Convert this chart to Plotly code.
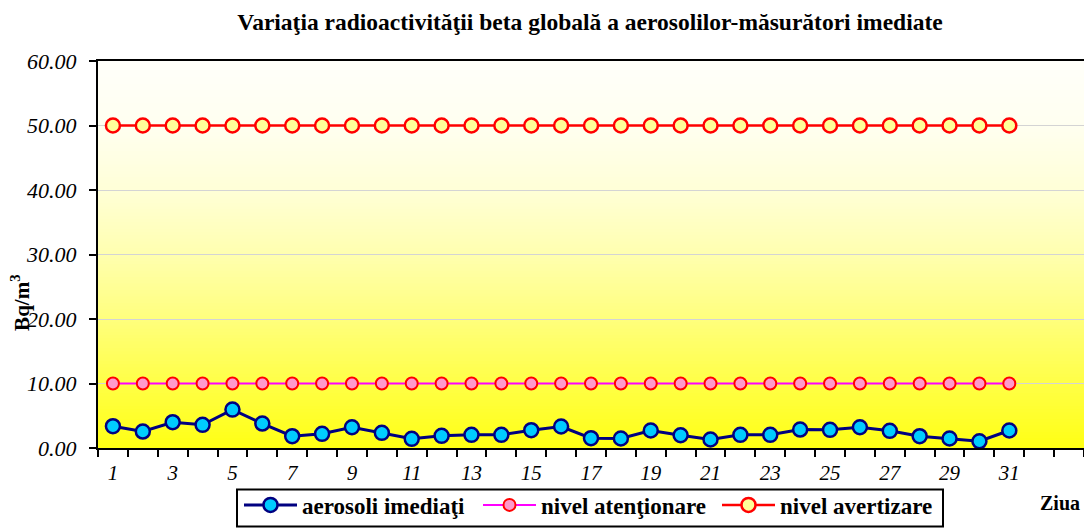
import plotly.graph_objects as go
import numpy as np

days = list(range(1, 32))
aerosoli = [3.38, 2.55, 4.00, 3.59, 5.96, 3.79, 1.83, 2.20, 3.22, 2.35,
            1.42, 1.89, 2.04, 2.04, 2.76, 3.33, 1.52, 1.47, 2.71, 1.98,
            1.32, 2.04, 2.04, 2.86, 2.82, 3.22, 2.66, 1.83, 1.47, 1.05, 2.71]
atentionare = [10.0, 10.0, 10.0, 10.0, 10.0, 10.0, 10.0, 10.0, 10.0, 10.0,
               10.0, 10.0, 10.0, 10.0, 10.0, 10.0, 10.0, 10.0, 10.0, 10.0,
               10.0, 10.0, 10.0, 10.0, 10.0, 10.0, 10.0, 10.0, 10.0, 10.0, 10.0]
avertizare = [50.0, 50.0, 50.0, 50.0, 50.0, 50.0, 50.0, 50.0, 50.0, 50.0,
              50.0, 50.0, 50.0, 50.0, 50.0, 50.0, 50.0, 50.0, 50.0, 50.0,
              50.0, 50.0, 50.0, 50.0, 50.0, 50.0, 50.0, 50.0, 50.0, 50.0, 50.0]
x_ticks = [1, 3, 5, 7, 9, 11, 13, 15, 17, 19, 21, 23, 25, 27, 29, 31]
y_ticks = [0, 10, 20, 30, 40, 50, 60]

SERIF = "Liberation Serif"
PAGE_OFFSET = 8  # default body margin of the page holding the figure

fig = go.Figure()
fig.add_trace(go.Scatter(
    x=days, y=aerosoli, name="aerosoli imediaţi", mode="lines+markers",
    line=dict(color="#000080", width=3),
    marker=dict(size=14, color="#00CCFF", line=dict(color="#000080", width=2.5)),
))
fig.add_trace(go.Scatter(
    x=days, y=atentionare, name="nivel atenţionare", mode="lines+markers",
    line=dict(color="#FF00FF", width=2),
    marker=dict(size=12, color="#FF99CC", line=dict(color="#FF0000", width=2)),
))
fig.add_trace(go.Scatter(
    x=days, y=avertizare, name="nivel avertizare", mode="lines+markers",
    line=dict(color="#FF0000", width=2.5),
    marker=dict(size=14, color="#FFFF99", line=dict(color="#FF0000", width=2.5)),
))

# background gradient (white at top -> yellow at bottom)
ctrl_t = [0.0, 0.167, 0.333, 0.5, 0.667, 0.833, 1.0]
ctrl_b = [20, 70, 125, 175, 215, 240, 250]
N = 120
shapes = []
for i in range(N):
    t0 = i / N
    t1 = (i + 1) / N
    b = int(round(np.interp((t0 + t1) / 2, ctrl_t, ctrl_b)))
    shapes.append(dict(type="rect", xref="x domain", yref="y domain",
                       x0=0, x1=1, y0=t0, y1=min(1.0, t1 + 0.002), layer="below",
                       line=dict(width=0), fillcolor=f"rgb(255,255,{b})"))

# plot area in page pixels: left 98, right 1084, top 61, bottom 448.5
PW, PH = 986.0, 387.5
# legend frame
shapes.append(dict(type="rect", xref="paper", yref="paper",
                   x0=(237 - 98) / PW, x1=(943 - 98) / PW,
                   y0=-(527 - 448.5) / PH, y1=-(490 - 448.5) / PH,
                   line=dict(color="black", width=2), fillcolor="white", layer="below"))

W, H = 1092 - PAGE_OFFSET, 529 - PAGE_OFFSET

fig.update_layout(
    width=W, height=H,
    margin=dict(l=98 - PAGE_OFFSET, r=8, t=61 - PAGE_OFFSET, b=80.5, autoexpand=False),
    paper_bgcolor="white", plot_bgcolor="white",
    shapes=shapes,
    title=dict(text="<b>Variaţia radioactivităţii beta globală a aerosolilor-măsurători imediate</b>",
               x=(590 - PAGE_OFFSET) / W, xanchor="center",
               y=1 - (22 - PAGE_OFFSET) / H, yanchor="middle",
               font=dict(family=SERIF, size=23.5, color="black")),
    font=dict(family=SERIF, color="black"),
    showlegend=True,
    legend=dict(orientation="h", x=(239 - 98) / PW, xanchor="left",
                y=-(484 - 448.5) / PH, yanchor="top",
                bgcolor="rgba(0,0,0,0)", borderwidth=0,
                font=dict(family=SERIF, size=23, color="black", weight="bold"),
                itemwidth=53, entrywidth=171, tracegroupgap=0),
    xaxis=dict(range=[0.5, 33.5], tickvals=x_ticks, ticktext=[str(v) for v in x_ticks],
               ticks="", showgrid=False, zeroline=False, automargin=False,
               showline=True, linecolor="black", linewidth=2, mirror=True,
               tickfont=dict(family=SERIF, size=21, style="italic", color="black"),
               minor=dict(tick0=0.5, dtick=1, ticks="outside", ticklen=7,
                          tickwidth=2, tickcolor="black", showgrid=False),
               ticklabelstandoff=5),
    yaxis=dict(range=[0, 60], tickvals=y_ticks, ticktext=[f"{v:.2f}" for v in y_ticks],
               ticks="outside", ticklen=7, tickwidth=2, tickcolor="black",
               showgrid=True, gridcolor="#D4D4D4", gridwidth=1, zeroline=False,
               automargin=False, ticklabelstandoff=8,
               showline=True, linecolor="black", linewidth=2, mirror=True,
               tickfont=dict(family=SERIF, size=22, style="italic", color="black")),
    annotations=[
        dict(text="<b>Bq/m<sup>3</sup></b>", xref="paper", yref="paper",
             x=(21 - 98) / PW, y=0.375, xanchor="center", yanchor="middle", textangle=-90,
             showarrow=False, font=dict(family=SERIF, size=21, color="black")),
        dict(text="<b>Ziua</b>", xref="paper", yref="paper",
             x=0.9757, y=-0.141, xanchor="center", yanchor="middle",
             showarrow=False, font=dict(family=SERIF, size=20, color="black")),
    ],
)

fig.write_html("out.html")
